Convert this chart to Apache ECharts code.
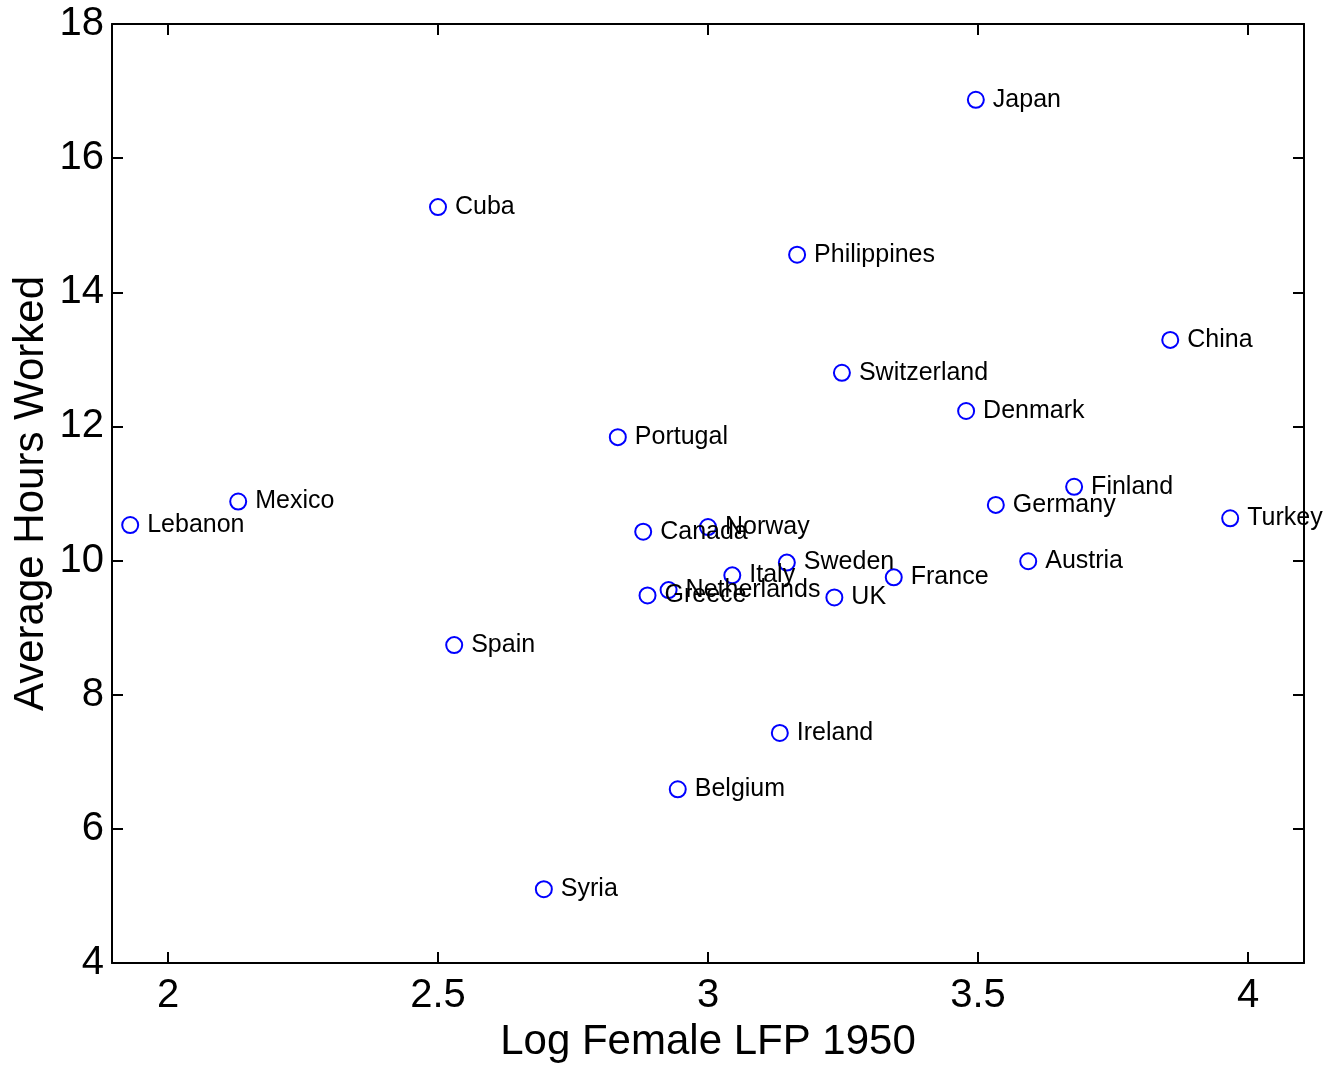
<!DOCTYPE html>
<html>
<head>
<meta charset="utf-8">
<script src="https://cdn.jsdelivr.net/npm/echarts@6/dist/echarts.min.js"></script>
<style>
html,body{margin:0;padding:0;background:#fff;}
#chart{width:1337px;height:1066px;}
</style>
</head>
<body>
<div id="chart"></div>
<script>
var countries = ["Japan","Cuba","Philippines","China","Switzerland","Denmark","Portugal","Mexico","Lebanon","Finland","Germany","Turkey","Canada","Norway","Austria","Sweden","Italy","France","Netherlands","Greece","UK","Spain","Ireland","Belgium","Syria"];
var logFemaleLFP = [3.496,2.500,3.165,3.856,3.248,3.478,2.833,2.130,1.930,3.678,3.533,3.967,2.880,3.000,3.593,3.146,3.045,3.344,2.927,2.888,3.234,2.530,3.133,2.944,2.696];
var avgHours = [16.87,15.27,14.56,13.29,12.80,12.23,11.84,10.88,10.53,11.10,10.83,10.63,10.43,10.50,9.99,9.97,9.78,9.75,9.56,9.48,9.45,8.74,7.43,6.59,5.10];
var xTicks = [2,2.5,3,3.5,4];
var yTicks = [4,6,8,10,12,14,16,18];
var xTitle = "Log Female LFP 1950";
var yTitle = "Average Hours Worked";

var data = countries.map(function(c,i){return [logFemaleLFP[i], avgHours[i], c];});
var FONT = "'Liberation Sans', Arial, Helvetica, sans-serif";
var axisLine = {show:true, onZero:false, lineStyle:{color:'#000', width:2}};
var tick = {show:true, inside:true, length:11, lineStyle:{color:'#000', width:2}};

var chart = echarts.init(document.getElementById('chart'));
chart.setOption({
  animation:false,
  backgroundColor:'#fff',
  grid:{left:112, top:24, right:33, bottom:103, containLabel:false, outerBoundsMode:'none'},
  xAxis:[{
    type:'value', position:'bottom', min:1.8963, max:4.1037,
    axisLine:axisLine,
    axisTick:Object.assign({customValues:xTicks}, tick),
    axisLabel:{customValues:xTicks, color:'#000', fontSize:40, fontFamily:FONT, margin:13},
    splitLine:{show:false},
    name:xTitle, nameLocation:'middle', nameGap:58, nameMoveOverlap:false,
    nameTextStyle:{color:'#000', fontSize:42, fontFamily:FONT}
  },{
    type:'value', position:'top', min:1.8963, max:4.1037,
    axisLine:axisLine,
    axisTick:Object.assign({customValues:xTicks}, tick),
    axisLabel:{show:false, customValues:xTicks},
    splitLine:{show:false}
  }],
  yAxis:[{
    type:'value', position:'left', min:4, max:18, interval:2,
    axisLine:axisLine, axisTick:tick,
    axisLabel:{color:'#000', fontSize:40, fontFamily:FONT, margin:8, padding:[6,0,0,0]},
    splitLine:{show:false},
    name:yTitle, nameLocation:'middle', nameGap:60, nameRotate:90, nameMoveOverlap:false,
    nameTextStyle:{color:'#000', fontSize:42, fontFamily:FONT}
  },{
    type:'value', position:'right', min:4, max:18, interval:2,
    axisLine:axisLine, axisTick:tick,
    axisLabel:{show:false},
    splitLine:{show:false}
  }],
  series:[{
    type:'scatter',
    xAxisIndex:0, yAxisIndex:0,
    data:data,
    symbol:'circle', symbolSize:16,
    itemStyle:{color:'rgba(0,0,0,0)', borderColor:'#0000ff', borderWidth:2, opacity:1},
    label:{show:true, position:'right', distance:8, offset:[0,-7],
      formatter:function(p){return p.data[2];},
      color:'#000', fontSize:25, fontFamily:FONT, opacity:1},
    emphasis:{disabled:true},
    labelLayout:{hideOverlap:false}
  }]
});
</script>
</body>
</html>
